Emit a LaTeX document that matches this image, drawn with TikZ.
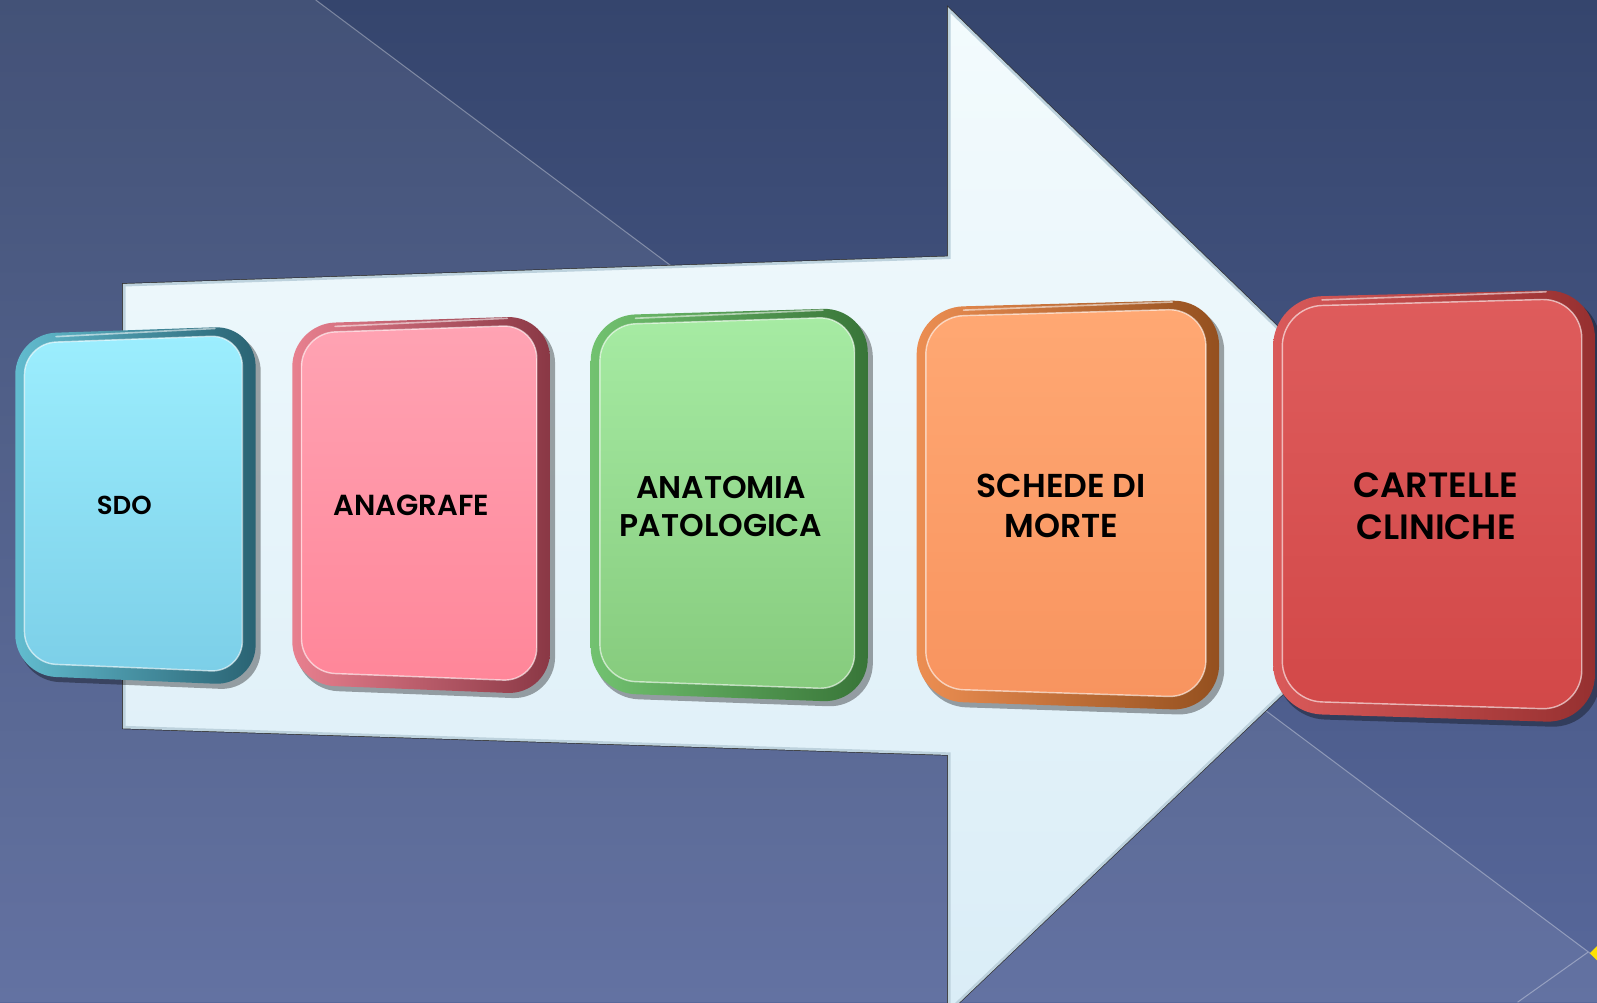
\documentclass[tikz,border=0pt]{standalone}
\usepackage{fontspec}
\setmainfont{Poppins}[BoldFont={Poppins SemiBold}]
\definecolor{bgtop}{HTML}{35456D}
\definecolor{bgbot}{HTML}{58689B}
\definecolor{arrtop}{HTML}{F3FBFD}
\definecolor{arrbot}{HTML}{DAEDF7}
\definecolor{arredge}{HTML}{BDD2DD}
\definecolor{sdo-rl}{HTML}{62BCCF}\definecolor{sdo-rd}{HTML}{2A6373}
\definecolor{sdo-t}{HTML}{9CEEFE}\definecolor{sdo-b}{HTML}{7CCFE8}
\definecolor{ana-rl}{HTML}{E8808F}\definecolor{ana-rd}{HTML}{8A3845}
\definecolor{ana-t}{HTML}{FFA3B3}\definecolor{ana-b}{HTML}{FF8699}
\definecolor{anp-rl}{HTML}{72C270}\definecolor{anp-rd}{HTML}{387538}
\definecolor{anp-t}{HTML}{A6EBA3}\definecolor{anp-b}{HTML}{86CB7D}
\definecolor{sdm-rl}{HTML}{EC8E52}\definecolor{sdm-rd}{HTML}{94501F}
\definecolor{sdm-t}{HTML}{FFA873}\definecolor{sdm-b}{HTML}{F8945F}
\definecolor{cc-rl}{HTML}{DA5A5A}\definecolor{cc-rd}{HTML}{963030}
\definecolor{cc-t}{HTML}{DE5C5C}\definecolor{cc-b}{HTML}{D24848}
\tikzset{
  bgline/.style={white,opacity=0.33,line width=1pt},
  boxlabel/.style={text=black,align=center,inner sep=0pt}
}
\begin{document}
\begin{tikzpicture}[x=1pt,y=-1pt]
\useasboundingbox (0,0) rectangle (1568,984);
% background
\shade[top color=bgtop,bottom color=bgbot] (0,0) rectangle (1568,984);
\fill[white,opacity=0.07] (0,0) -- (310,0) -- (1568,941) -- (1568,984) -- (0,984) -- cycle;
\draw[bgline] (310,0) -- (1568,941);
\draw[bgline] (1559,935) -- (1490,984);
\fill[yellow!85!orange] (1568,929) -- (1561,936) -- (1568,943) -- cycle;
% big arrow
\coordinate (a1) at (122,280);
\coordinate (a2) at (932,253);
\coordinate (a3) at (932,10);
\coordinate (a4) at (1443,505);
\coordinate (a5) at (932,992);
\coordinate (a6) at (932,740);
\coordinate (a7) at (122,714);
\draw[black!80,line width=4pt,line join=miter] (a1) -- (a2) -- (a3) -- (a4) -- (a5) -- (a6) -- (a7) -- cycle;
\shade[top color=arrtop,bottom color=arrbot] (a1) -- (a2) -- (a3) -- (a4) -- (a5) -- (a6) -- (a7) -- cycle;
\draw[arredge,line width=2.6pt,line join=miter] (a1) -- (a2) -- (a3) -- (a4) -- (a5) -- (a6) -- (a7) -- cycle;
% boxes
\foreach \n/\xa/\xb/\ya/\yb/\yc/\yd/\r/\fs/\tx/\ty/\txt in {
  sdo/15/251/328/320/663/673/40/25.5/122/496/SDO,
  ana/287/540/318/310/672/682/42/28.5/404/496/ANAGRAFE,
  anp/580/852/310/302/680/690/44/30.8/708/497/{ANATOMIA\\PATOLOGICA},
  sdm/900/1197/302/294/688/698/46/32.5/1042/497/{SCHEDE DI\\MORTE},
  cc/1250/1566/292/284/700/710/48/34.5/1410/497/{CARTELLE\\CLINICHE}}
{
  \pgfmathsetmacro\ri{\r-9}
  \pgfmathsetmacro\bs{\fs*1.2}
  \fill[black,opacity=0.35,rounded corners=\r pt]
    (\xa+3,\ya+5) -- (\xb+5,\yb+5) -- (\xb+5,\yd+5) -- (\xa+3,\yc+5) -- cycle;
  \shade[left color=\n-rl,right color=\n-rd,rounded corners=\r pt]
    (\xa,\ya) -- (\xb,\yb) -- (\xb,\yd) -- (\xa,\yc) -- cycle;
  \draw[white,opacity=0.55,line width=1.6pt,line cap=round]
    (\xa+\r,\ya+2.5) -- (\xb-\r,\yb+2.5);
  \shade[top color=\n-t,bottom color=\n-b,rounded corners=\ri pt]
    (\xa+9,\ya+9) -- (\xb-13,\yb+9) -- (\xb-13,\yd-13) -- (\xa+9,\yc-12) -- cycle;
  \draw[white,opacity=0.6,line width=1.4pt,rounded corners=\ri pt]
    (\xa+9,\ya+9) -- (\xb-13,\yb+9) -- (\xb-13,\yd-13) -- (\xa+9,\yc-12) -- cycle;
  \node[boxlabel,font={\fontsize{\fs}{\bs}\selectfont\bfseries}] (\n) at (\tx,\ty) {\txt};
}
\end{tikzpicture}
\end{document}
